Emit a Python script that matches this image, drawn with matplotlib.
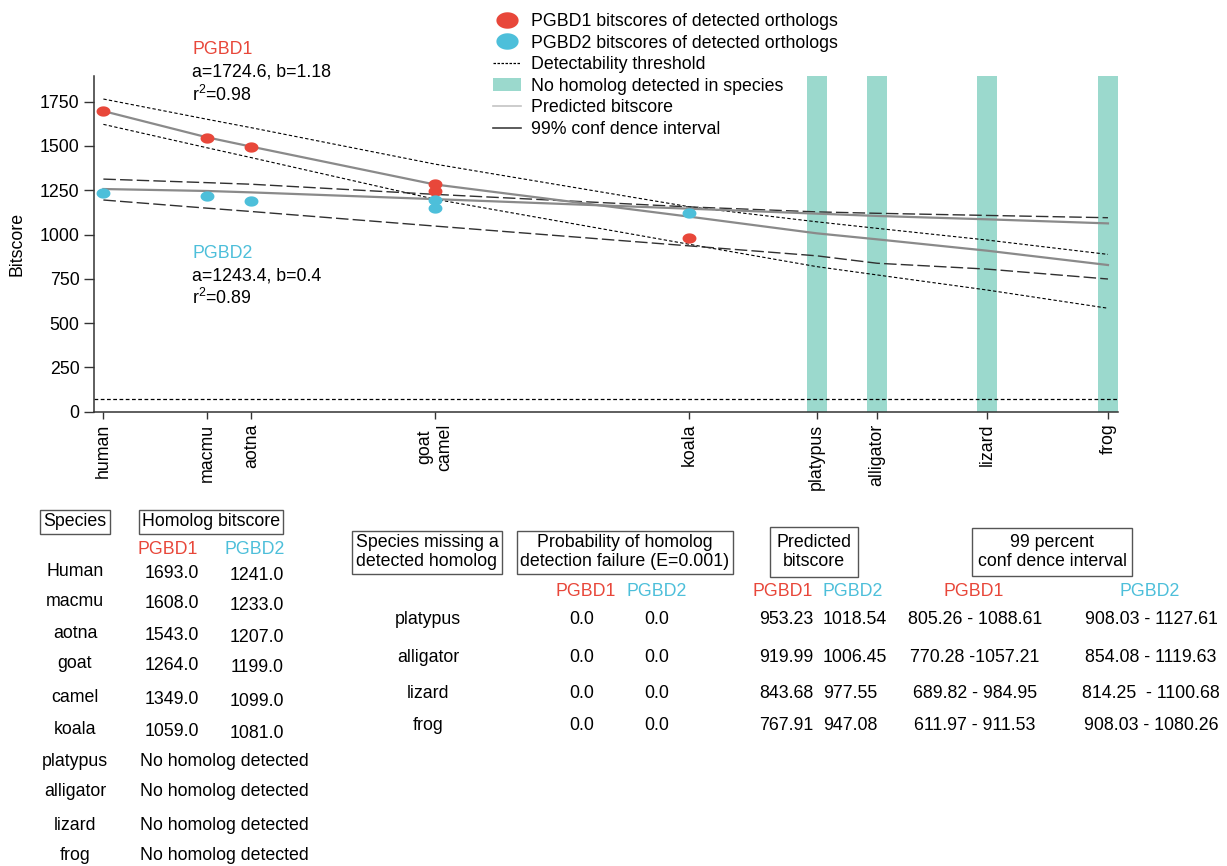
import numpy as np
import matplotlib
matplotlib.use("Agg")
import matplotlib.pyplot as plt
from matplotlib.lines import Line2D
from matplotlib.patches import Patch
from matplotlib.path import Path

plt.rcParams["font.family"] = ["Liberation Sans", "DejaVu Sans"]
FS = 12.8

RED = "#E8473A"
BLUE = "#4DBFDA"
TEAL = "#9BD9CD"

# --- chart data ---
tick_names = ["human", "macmu", "aotna", "goat\ncamel", "koala",
              "platypus", "alligator", "lizard", "frog"]
tick_x = [0.053, 0.118, 0.146, 0.261, 0.421, 0.501, 0.539, 0.608, 0.684]

# detected orthologs (as plotted)
det_x = [0.053, 0.118, 0.146, 0.261, 0.261, 0.421]
pgbd1_points = [1697, 1543, 1496, 1286, 1247, 978]
pgbd2_points = [1233, 1216, 1191, 1195, 1148, 1120]

# species with no homolog detected
missing_x = [0.501, 0.539, 0.608, 0.684]

# fitted curves, evaluated at tick_x
pgbd1_pred = [1697, 1549, 1496, 1283, 1101, 1007, 973, 909, 828]
pgbd1_hi = [1765, 1651, 1603, 1398, 1157, 1072, 1035, 969, 888]
pgbd1_lo = [1622, 1490, 1434, 1200, 945, 819, 772, 687, 584]
pgbd2_pred = [1257, 1246, 1238, 1200, 1146, 1118, 1105, 1086, 1063]
pgbd2_hi = [1313, 1293, 1284, 1227, 1156, 1128, 1120, 1108, 1095]
pgbd2_lo = [1195, 1149, 1130, 1048, 936, 880, 838, 805, 749]

threshold = 70

# --- table data ---
species = ["Human", "macmu", "aotna", "goat", "camel", "koala",
           "platypus", "alligator", "lizard", "frog"]
bits1 = [1693.0, 1608.0, 1543.0, 1264.0, 1349.0, 1059.0]
bits2 = [1241.0, 1233.0, 1207.0, 1199.0, 1099.0, 1081.0]

missing = ["platypus", "alligator", "lizard", "frog"]
prob1 = [0.0, 0.0, 0.0, 0.0]
prob2 = [0.0, 0.0, 0.0, 0.0]
pred1 = [953.23, 919.99, 843.68, 767.91]
pred2 = [1018.54, 1006.45, 977.55, 947.08]
ci1 = ["805.26 - 1088.61", "770.28 -1057.21", "689.82 - 984.95", "611.97 - 911.53"]
ci2 = ["908.03 - 1127.61", "854.08 - 1119.63", "814.25  - 1100.68", "908.03 - 1080.26"]

W, H = 1227, 866
fig = plt.figure(figsize=(W / 100, H / 100), dpi=100)


def fx(x):
    return x / W


def fy(y):
    return 1 - y / H


ax = fig.add_axes([fx(94), fy(411.7), fx(1024), (411.7 - 76) / H])
ax.set_xlim(0.0471, 0.6903)
ax.set_ylim(0, 1895)

# ellipse marker (dots are slightly wider than tall)
t = np.linspace(0, 2 * np.pi, 60)
ell = Path(np.column_stack([1.35 * np.cos(t), np.sin(t)]), closed=True)

ax.bar(missing_x, 1895, width=0.0125, color=TEAL, zorder=1)
ax.axhline(threshold, color="black", lw=0.9, ls=(0, (3, 2)), zorder=2)

ax.plot(tick_x, pgbd1_hi, color="black", lw=0.8, ls=(0, (3, 2)), zorder=3)
ax.plot(tick_x, pgbd1_lo, color="black", lw=0.8, ls=(0, (3, 2)), zorder=3)
ax.plot(tick_x, pgbd2_hi, color="#303030", lw=1.0, ls=(0, (9, 3)), zorder=3)
ax.plot(tick_x, pgbd2_lo, color="#303030", lw=1.0, ls=(0, (9, 3)), zorder=3)
ax.plot(tick_x, pgbd1_pred, color="#8a8a8a", lw=1.6, zorder=3)
ax.plot(tick_x, pgbd2_pred, color="#8a8a8a", lw=1.6, zorder=3)

ax.plot(det_x, pgbd1_points, ls="none", marker=ell, ms=10, color=RED, mec="none", zorder=4)
ax.plot(det_x, pgbd2_points, ls="none", marker=ell, ms=10, color=BLUE, mec="none", zorder=4)

ax.set_xticks(tick_x)
ax.set_xticklabels(tick_names, rotation=90, fontsize=FS)
ax.set_yticks(np.arange(0, 1751, 250))
ax.tick_params(axis="y", labelsize=FS, length=7, width=1, color="#333")
ax.tick_params(axis="x", length=5, width=1, color="#333")
ax.set_ylabel("Bitscore", fontsize=FS, labelpad=10)
for s in ["top", "right"]:
    ax.spines[s].set_visible(False)
for s in ["left", "bottom"]:
    ax.spines[s].set_color("#333")
    ax.spines[s].set_linewidth(1.1)

# fit annotations
fig.text(fx(192), fy(49), "PGBD1", color=RED, fontsize=FS, va="center")
fig.text(fx(192), fy(72), "a=1724.6, b=1.18", fontsize=FS, va="center")
fig.text(fx(192), fy(95), r"r$^{\mathregular{2}}$=0.98", fontsize=FS, va="center")
fig.text(fx(192), fy(253), "PGBD2", color=BLUE, fontsize=FS, va="center")
fig.text(fx(192), fy(276), "a=1243.4, b=0.4", fontsize=FS, va="center")
fig.text(fx(192), fy(298), r"r$^{\mathregular{2}}$=0.89", fontsize=FS, va="center")

handles = [
    Line2D([], [], ls="none", marker=ell, ms=16, color=RED, mec="none"),
    Line2D([], [], ls="none", marker=ell, ms=16, color=BLUE, mec="none"),
    Line2D([], [], color="black", lw=0.9, ls=(0, (2, 1.2))),
    Patch(facecolor=TEAL, edgecolor="none"),
    Line2D([], [], color="#c4c4c4", lw=1.2),
    Line2D([], [], color="#404040", lw=1.2),
]
labels = [
    "PGBD1 bitscores of detected orthologs",
    "PGBD2 bitscores of detected orthologs",
    "Detectability threshold",
    "No homolog detected in species",
    "Predicted bitscore",
    "99% conf dence interval",
]
fig.legend(handles, labels, loc="upper left", bbox_to_anchor=(fx(493), fy(13)),
           frameon=False, fontsize=FS, handlelength=1.6, handleheight=0.8,
           handletextpad=0.55, labelspacing=0.26, borderpad=0, borderaxespad=0)

# --- tables ---
box = dict(boxstyle="square,pad=0.18", fc="white", ec="#555555", lw=1)


def txt(x, y, s, **kw):
    kw.setdefault("fontsize", FS)
    kw.setdefault("ha", "center")
    kw.setdefault("va", "center")
    fig.text(fx(x), fy(y), s, **kw)


txt(75, 522, "Species", bbox=box)
txt(211, 522, "Homolog bitscore", bbox=box)
txt(168, 549, "PGBD1", color=RED)
txt(255, 549, "PGBD2", color=BLUE)

row_y = [571, 601, 634, 664, 698, 730, 761, 792, 826, 856]
for i, name in enumerate(species):
    txt(75, row_y[i], name)
    if i < len(bits1):
        txt(172, row_y[i] + 2, f"{bits1[i]:.1f}")
        txt(257, row_y[i] + 4, f"{bits2[i]:.1f}")
    else:
        txt(224, row_y[i], "No homolog detected")

txt(427, 552, "Species missing a\ndetected homolog", bbox=box)
txt(625, 552, "Probability of homolog\ndetection failure (E=0.001)", bbox=box)
txt(814, 552, "Predicted\nbitscore", bbox=dict(boxstyle="square,pad=0.35", fc="white", ec="#555555", lw=1))
txt(1052, 552, "99 percent\nconf dence interval", bbox=dict(boxstyle="square,pad=0.3", fc="white", ec="#555555", lw=1))

for x, lab, col in [(586, "PGBD1", RED), (657, "PGBD2", BLUE), (783, "PGBD1", RED),
                    (853, "PGBD2", BLUE), (974, "PGBD1", RED), (1150, "PGBD2", BLUE)]:
    txt(x, 592, lab, color=col)

row2_y = [620, 657, 693, 726]
for i, name in enumerate(missing):
    y = row2_y[i]
    txt(428, y, name)
    txt(582, y, f"{prob1[i]:.1f}")
    txt(657, y, f"{prob2[i]:.1f}")
    txt(813, y, f"{pred1[i]:.2f}", ha="right")
    txt(823, y, f"{pred2[i]:.2f}", ha="left")
    txt(975, y, ci1[i])
    txt(1151, y, ci2[i])

fig.savefig("out.png", dpi=100)
